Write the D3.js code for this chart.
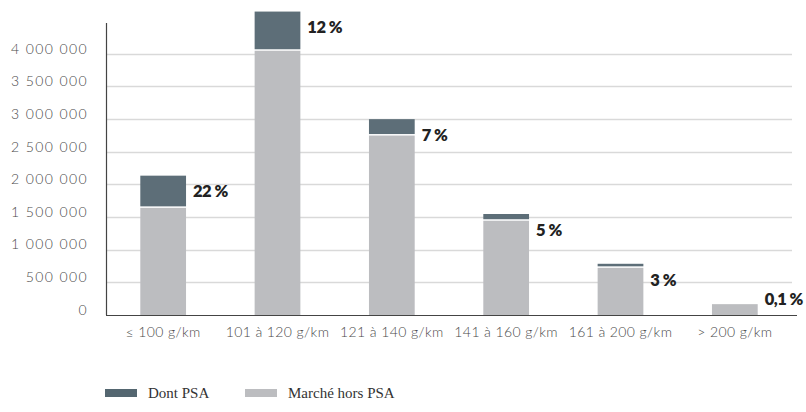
<!DOCTYPE html>
<html>
<head>
<meta charset="utf-8">
<script src="https://cdn.jsdelivr.net/npm/d3@7"></script>
<style>
body { margin: 0; background: #fff; }
.tick text { font-family: Lato, sans-serif; font-weight: 300; fill: #4a4a4a; }
</style>
</head>
<body>
<div id="chart-area"></div>
<script>
// data
var categories = ["\u2264 100 g/km", "101 \u00e0 120 g/km", "121 \u00e0 140 g/km", "141 \u00e0 160 g/km", "161 \u00e0 200  g/km", "> 200 g/km"];
var horsPSA = [1640000, 4045000, 2747000, 1443000, 722000, 166000];
var dontPSA = [493000, 600000, 251000, 103000, 62000, 0];
var shares = ["22 %", "12 %", "7 %", "5 %", "3 %", "0,1 %"];
var yTicks = [0, 500000, 1000000, 1500000, 2000000, 2500000, 3000000, 3500000, 4000000];
var seriesNames = ["Dont PSA", "March\u00e9 hors PSA"];

var margin = {left: 106, right: 14, top: 23, bottom: 97};
var width = 806 - margin.left - margin.right;
var height = 412 - margin.top - margin.bottom;

var darkColor = "#5d6e78";
var lightColor = "#bcbdc0";

var svg = d3.select("#chart-area").append("svg")
    .attr("width", 806)
    .attr("height", 412);
var g = svg.append("g")
    .attr("transform", "translate(" + margin.left + ", " + margin.top + ")");

var y = d3.scaleLinear()
    .domain([0, 4470000])
    .range([height, 0]);
var x = d3.scaleBand()
    .domain(categories)
    .range([0, 686])
    .paddingInner(0.6)
    .paddingOuter(0.3);

// grid lines
g.append("g")
    .selectAll("line")
    .data(yTicks.slice(1))
    .enter()
    .append("line")
    .attr("x1", 0)
    .attr("x2", 686)
    .attr("y1", (d) => Math.round(y(d)) + 0.5)
    .attr("y2", (d) => Math.round(y(d)) + 0.5)
    .attr("stroke", "#d9d9d9")
    .attr("stroke-width", 1.3);

// y axis
var yAxis = d3.axisLeft(y)
    .tickValues(yTicks)
    .tickSize(0)
    .tickPadding(18)
    .tickFormat((d) => d3.format(",")(d).replace(/,/g, " "));
var yg = g.append("g")
    .attr("class", "y-axis")
    .call(yAxis);
yg.select(".domain").remove();
yg.selectAll("text")
    .attr("font-size", "14px")
    .attr("letter-spacing", "1.4px")
    .attr("dy", "-0.05em");

// rectangles
var rows = categories.map((c, i) => ({cat: c, hors: horsPSA[i], psa: dontPSA[i], share: shares[i]}));

g.selectAll("rect.hors")
    .data(rows)
    .enter()
    .append("rect")
    .attr("class", "hors")
    .attr("x", (d) => x(d.cat))
    .attr("y", (d) => y(d.hors))
    .attr("width", x.bandwidth())
    .attr("height", (d) => height - y(d.hors))
    .attr("fill", lightColor);

g.selectAll("rect.psa")
    .data(rows.filter((d) => d.psa > 0))
    .enter()
    .append("rect")
    .attr("class", "psa")
    .attr("x", (d) => x(d.cat))
    .attr("y", (d) => y(d.hors + d.psa))
    .attr("width", x.bandwidth())
    .attr("height", (d) => y(d.hors) - y(d.hors + d.psa) - 1.5)
    .attr("fill", darkColor);

// share labels
g.selectAll("text.share")
    .data(rows)
    .enter()
    .append("text")
    .attr("class", "share")
    .attr("x", (d) => x(d.cat) + x.bandwidth() + 7)
    .attr("y", (d) => Math.min(y(d.hors + d.psa) + 16, height - 16))
    .attr("dy", "0.35em")
    .attr("font-family", "Lato, sans-serif")
    .attr("font-weight", 800)
    .attr("font-size", "16.5px")
    .attr("letter-spacing", "-0.5px")
    .attr("fill", "#222")
    .text((d) => d.share);

// x axis
var xAxis = d3.axisBottom(x).tickSize(0).tickPadding(12);
var xg = g.append("g")
    .attr("class", "x-axis")
    .attr("transform", "translate(0, " + height + ")")
    .call(xAxis);
xg.select(".domain").remove();
xg.selectAll("text")
    .attr("font-size", "14px")
    .attr("letter-spacing", "0.4px");

// axis lines
g.append("line")
    .attr("x1", 0).attr("x2", 691)
    .attr("y1", height + 0.5).attr("y2", height + 0.5)
    .attr("stroke", "#444").attr("stroke-width", 1.2);
g.append("line")
    .attr("x1", 0.5).attr("x2", 0.5)
    .attr("y1", 0).attr("y2", height)
    .attr("stroke", "#444").attr("stroke-width", 1.2);

// legend
var legend = svg.append("g")
    .attr("transform", "translate(105, 389)");
var items = legend.selectAll("g")
    .data(seriesNames)
    .enter()
    .append("g")
    .attr("transform", (d, i) => "translate(" + (i * 140) + ", 0)");
items.append("rect")
    .attr("width", 32)
    .attr("height", 8)
    .attr("fill", (d, i) => i === 0 ? "#546670" : lightColor);
items.append("text")
    .attr("x", 43)
    .attr("y", 4)
    .attr("dy", "0.35em")
    .attr("font-family", "'Liberation Serif', serif")
    .attr("font-size", "15px")
    .attr("fill", "#333")
    .text((d) => d);
</script>
</body>
</html>
